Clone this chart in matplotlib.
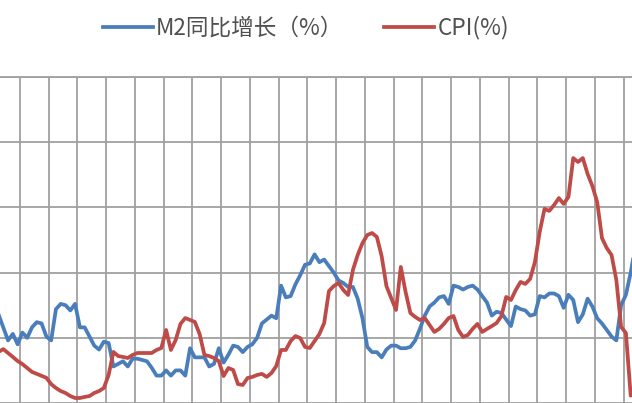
import matplotlib
matplotlib.use("Agg")
import matplotlib.pyplot as plt
import numpy as np

plt.rcParams['font.family'] = ['Noto Sans CJK SC', 'DejaVu Sans']

# Monthly data, month index 0 = Jul 1998 (index -5 = Feb 1998 ... 128 = Mar 2009)
months = np.arange(-5, 129)

m2_yoy = [16.8, 15.8, 14.8, 15.3, 14.5, 15.4, 15.0, 15.8, 16.2, 16.1,
          15.1, 14.8, 17.2, 17.6, 17.5, 17.1, 17.6, 15.8, 15.8, 15.1,
          14.4, 14.1, 14.7, 14.6, 12.8, 13.0, 13.2, 12.8, 13.4, 13.4,
          13.3, 13.2, 12.7, 12.1, 12.1, 12.5, 12.1, 12.5, 12.5, 12.1,
          14.2, 13.5, 13.5, 13.5, 12.8, 13.0, 14.2, 13.1, 13.7, 14.4,
          14.3, 13.9, 14.3, 14.5, 15.0, 16.1, 16.4, 16.7, 16.5, 19.0,
          18.1, 18.2, 19.1, 19.8, 20.6, 20.7, 21.4, 20.8, 21.0, 20.5,
          20.0, 19.4, 19.2, 18.9, 18.9, 18.0, 16.5, 14.3, 13.9, 13.9,
          13.5, 14.1, 14.4, 14.4, 14.2, 14.2, 14.3, 14.8, 15.7, 16.7,
          17.4, 17.7, 18.1, 18.2, 17.6, 19.0, 18.9, 18.7, 18.9, 19.0,
          18.7, 18.2, 17.7, 16.7, 17.0, 16.9, 16.4, 15.9, 17.4, 17.2,
          17.1, 16.7, 16.8, 18.2, 18.1, 18.4, 18.4, 18.2, 17.3, 18.3,
          17.9, 16.2, 16.8, 18.0, 17.4, 16.5, 16.1, 15.6, 15.1, 14.8,
          17.5, 18.3, 20.0, 22.1]

cpi = [-0.65, -0.52, -0.70, -0.88, -1.07, -1.21, -1.39, -1.57, -1.66, -1.75,
       -1.84, -2.13, -2.31, -2.45, -2.54, -2.68, -2.77, -2.77, -2.72, -2.68,
       -2.54, -2.45, -2.31, -1.71, -0.65, -0.84, -0.88, -0.93, -0.79, -0.70,
       -0.70, -0.70, -0.70, -0.56, -0.47, 0.36, -0.56, -0.10, 0.64, 0.91,
       0.82, 0.73, 0.17, -0.79, -0.84, -0.93, -1.07, -1.76, -1.39, -1.48,
       -2.13, -2.17, -1.85, -1.80, -1.71, -1.66, -1.80, -1.62, -1.30, -0.56,
       -0.56, -0.15, 0.08, -0.01, -0.42, -0.47, -0.15, 0.17, 0.68, 2.15,
       2.38, 2.52, 2.20, 1.97, 3.12, 3.81, 4.36, 4.73, 4.82, 4.64,
       3.76, 2.38, 1.83, 1.28, 3.26, 2.11, 1.14, 0.96, 0.82, 0.91,
       0.59, 0.27, 0.41, 0.64, 0.91, 1.00, 0.36, 0.04, 0.13, 0.41,
       0.64, 0.27, 0.41, 0.54, 0.68, 1.00, 1.88, 1.74, 2.20, 2.57,
       2.48, 2.71, 3.49, 4.87, 5.93, 5.84, 6.11, 6.43, 6.16, 6.48,
       8.27, 8.09, 8.27, 7.54, 6.98, 6.25, 4.59, 4.13, 3.81, 2.66,
       0.50, 0.22, -2.66, -2.43]

label_m2 = "M2同比增长（%）"
label_cpi = "CPI(%)"
blue = "#4a7ebb"
red = "#be4b48"
grid_c = "#a0a0a0"

fig = plt.figure(figsize=(6.32, 4.03), dpi=100)
ax = fig.add_axes([0, 0, 1, 326 / 403])
ax2 = ax.twinx()

l1, = ax.plot(months, m2_yoy, color=blue, lw=2.7, solid_joinstyle='round')
l2, = ax2.plot(months, cpi, color=red, lw=2.7, solid_joinstyle='round')

ax.set_xlim(-4.68, 127.27)
ax.set_ylim(10, 35)
ax2.set_ylim(-3, 12)

ax.set_xticks(np.arange(-0.5, 130, 6))
ax.set_yticks([10, 15, 20, 25, 30, 35])
ax.grid(True, color=grid_c, lw=1.3)
ax.set_axisbelow(True)
for a in (ax, ax2):
    a.tick_params(left=False, right=False, bottom=False, top=False,
                  labelleft=False, labelright=False, labelbottom=False)
    for s in a.spines.values():
        s.set_visible(False)
ax.axhline(35, color=grid_c, lw=1.3, clip_on=False)

fig.legend([l1, l2], [label_m2, label_cpi], loc='center',
           bbox_to_anchor=(306 / 632, 1 - 28 / 403), ncol=2, frameon=False,
           fontsize=16.3, handlelength=2.2, handletextpad=0.15,
           columnspacing=1.8, labelcolor="#505050")

fig.savefig("out.png", dpi=100)
